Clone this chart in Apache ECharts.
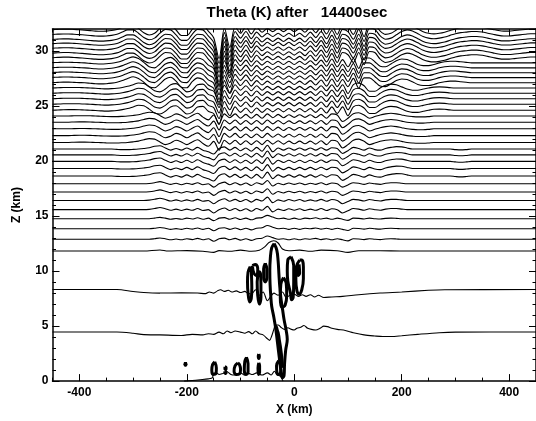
<!DOCTYPE html>
<html>
<head>
<meta charset="utf-8">
<title>Theta (K) after 14400sec</title>
<script src="https://cdn.jsdelivr.net/npm/echarts@6/dist/echarts.min.js"></script>
<style>
html, body { margin: 0; padding: 0; background: #fff; }
#chart { width: 536px; height: 421px; }
</style>
</head>
<body>
<div id="chart"></div>
<script>
// x samples (km) for the layered isentropes
const xGrid = [-450,-440,-430,-420,-410,-400,-390,-380,-370,-360,
  -350,-340,-330,-320,-310,-300,-290,-280,-270,-260,
  -250,-240,-230,-220,-210,-200,-190,-180,-170,-160,
  -150,-140,-130,-120,-110,-100,-90,-80,-70,-60,
  -50,-40,-30,-20,-10,0,10,20,30,40,
  50,60,70,80,90,100,110,120,130,140,
  150,160,170,180,190,200,210,220,230,240,
  250,260,270,280,290,300,310,320,330,340,
  350,360,370,380,390,400,410,420,430,440,
  450];

// isentrope heights at the left edge (km), grouped by layer
const levelsB1 = [12.89, 13.84, 14.76];
const levelsB2 = [15.58, 16.42, 17.18, 17.93];
const levelsB3 = [18.64, 19.32, 19.97, 20.56, 21.09];
const levelsB4 = [21.69, 22.31, 22.93, 23.53, 24.09];
const levelsB5 = [24.62, 25.16, 25.66, 26.16, 26.64];
const levelsB6 = [27.11, 27.58, 28.03, 28.47, 28.92];
const levelsB7 = [29.36, 29.78, 30.22, 30.64, 31.02, 31.47, 31.91];

// vertical displacement (km) of each layer along xGrid
const dispB1 = [0,0,0,0,0,0,0,0,0,0,
  0,0,0,0,0,0,0,0,0,0.05,
  0.12,0.05,-0.05,0.02,-0.05,0.05,-0.03,0.08,-0.05,0.05,
  -0.18,0.05,0.1,-0.05,0.08,-0.08,0.05,-0.1,0.05,0.1,
  0.3,0.15,0,0.05,-0.05,0.05,-0.05,0.05,0,0.08,
  -0.03,0.05,-0.05,0.05,-0.05,-0.15,0.05,0.03,-0.03,0.05,
  0,-0.03,0.03,0.05,0.03,0,0,0,0,0,
  0,0,0,0,0,0,0,0,0,0,
  0,0,0,0,0,0,0,0,0,0,
  0];
const dispB2 = [0,0,0,0,0,0,0,0,0,0,
  0,0,0,0,0,0,0,0,0.03,0.1,
  0.2,0.08,-0.05,0.05,-0.08,0.05,-0.05,0.1,-0.08,0,
  -0.3,0,0.15,-0.08,0.1,-0.1,0.08,-0.15,0.1,-0.05,
  0.3,-0.2,0.05,-0.08,0.08,-0.05,0.08,-0.08,0.05,-0.05,
  0.1,-0.08,0.08,0,-0.3,-0.1,0.1,0.05,-0.05,0.08,
  0,-0.05,0.05,0.1,0.1,0.05,0,0,0,0,
  0,0,0,0,0,0,0,0,0,0,
  0,0,0,0,0,0,0,0,0,0,
  0];
const dispB3 = [0,0,0,0,0,0,0,0,0,0,
  0,0,-0.03,-0.05,-0.05,-0.03,0,0.05,0.12,0.25,
  0.3,0.1,-0.1,0.05,-0.1,0.1,-0.1,0.15,-0.1,-0.25,
  -0.45,0.05,0.2,-0.1,0.15,-0.15,0.1,-0.2,0.15,-0.2,
  0.35,-0.25,0.1,-0.1,0.1,-0.1,0.1,-0.1,0.1,-0.1,
  0.12,-0.1,0.12,0.05,-0.4,-0.15,0.15,0.05,-0.1,0.1,
  -0.05,-0.1,0.05,0.15,0.22,0.2,0.1,0,0,0,
  0,0,0,0,0,-0.05,-0.08,-0.05,0,0,
  0,0,0,0,0,0,0,0,0,0,
  0];
const dispB4 = [0,0,0,0,0.02,0.03,0.03,0.02,0,-0.02,
  -0.04,-0.05,-0.05,-0.03,0,0.05,0.12,0.25,0.35,0.3,
  0.05,-0.2,-0.05,0.2,0.05,-0.2,0.05,0.25,-0.1,-0.35,
  0.1,-0.7,0.2,-0.15,0.2,-0.2,0.15,-0.2,0.15,-0.2,
  0.2,-0.15,0.15,-0.15,0.12,-0.12,0.12,-0.12,0.12,-0.15,
  0.15,-0.2,0.2,0.1,-0.5,-0.2,0.2,0.3,0.1,-0.2,
  -0.05,0.1,0.2,0.25,0.2,0.1,0,-0.05,-0.08,-0.08,
  -0.05,0,0,0,0,0,0,0,0,0,
  0,0,0,0,0,0,0,0,0,0,
  0];
const dispB5 = [0,0.02,0.04,0.05,0.05,0.04,0.02,0,-0.03,-0.06,
  -0.08,-0.06,-0.02,0.05,0.15,0.3,0.45,0.4,0.1,-0.25,
  -0.35,-0.1,0.3,0.4,0.05,-0.35,-0.2,0.3,0.35,-0.1,
  -0.3,-1.3,0.25,-0.5,0.3,-0.2,0.2,-0.25,0.2,-0.2,
  0.15,-0.15,0.15,-0.15,0.15,-0.15,0.15,-0.15,0.15,-0.2,
  0.2,-0.25,0.3,-0.3,0.3,-0.5,0.3,0.45,0.2,-0.3,
  -0.3,0,0.25,0.35,0.3,0.1,-0.1,-0.2,-0.2,-0.1,
  0,0.08,0.1,0.08,0.03,0,0,0,0,0,
  0,0,0,0,0,0,0,0,0,0,
  0];
const dispB6 = [0.02,0.04,0.06,0.06,0.04,0.02,0,-0.04,-0.08,-0.1,
  -0.08,-0.03,0.05,0.2,0.4,0.55,0.4,0.05,-0.35,-0.45,
  -0.1,0.35,0.5,0.15,-0.4,-0.45,0.1,0.45,0.3,-0.2,
  -0.5,-2.0,0.2,-0.9,0.3,-0.25,0.25,-0.3,0.2,-0.2,
  0.15,-0.15,0.15,-0.15,0.15,-0.15,0.15,-0.15,0.2,-0.2,
  0.25,-0.3,0.35,-0.35,0.3,-0.35,0.4,-0.5,0.45,0.45,
  0.1,-0.3,-0.35,-0.1,0.2,0.35,0.3,0.1,-0.15,-0.25,
  -0.25,-0.15,0,0.1,0.15,0.15,0.1,0.05,0,0,
  0,0,0,0,0,0,0,0,0,0,
  0];
const dispB7 = [0.03,0.06,0.08,0.08,0.05,0.02,-0.02,-0.06,-0.1,-0.12,
  -0.1,-0.05,0.05,0.25,0.45,0.45,0.15,-0.25,-0.45,-0.3,
  0.15,0.5,0.45,0,-0.5,-0.5,0.05,0.5,0.45,-0.1,
  -0.7,-2.6,0.2,-1.6,0.3,-0.3,0.3,-0.35,0.25,-0.2,
  0.15,-0.15,0.15,-0.15,0.15,-0.15,0.15,-0.2,0.25,-0.25,
  0.3,-0.35,0.4,-0.4,0.5,0.3,-0.4,0.5,-0.6,0.6,
  0.5,-0.1,-0.4,-0.3,0,0.3,0.45,0.35,0.1,-0.15,
  -0.3,-0.35,-0.3,-0.2,-0.05,0.1,0.2,0.25,0.3,0.3,
  0.25,0.15,0.05,-0.05,-0.1,-0.1,-0.05,0,0.05,0.1,
  0.1];

// lower isentropes, [x km, z km]
const lineSurface = [[-205,0],[-190,0.05],[-175,0.12],[-160,0.2],[-152,0.32],[-151,0.7],[-145,0.75],
  [-140,0.6],[-133,0.7],[-125,0.85],[-118,0.6],[-110,0.55],[-100,0.75],[-93,0.55],[-85,0.7],
  [-78,0.6],[-70,0.75],[-60,0.55],[-50,0.75],[-43,0.55],[-37,0.9],[-32,0.6],[-25,0.4],[-21,0]];
const line4 = [[-450,4.46],[-330,4.46],[-300,4.35],[-280,4.22],[-250,4.2],[-210,4.15],[-190,4.25],
  [-170,4.2],[-160,4.3],[-150,4.25],[-140,4.45],[-132,4.3],[-125,4.55],[-118,4.4],[-110,4.55],
  [-100,4.45],[-92,4.35],[-85,4.5],[-78,4.3],[-72,4.55],[-65,4.3],[-58,4.2],[-50,3.85],[-46,3.7],
  [-42,4.1],[-38,4.7],[-35,5.1],[-30,5.1],[-25,4.9],[-18,4.7],[-12,4.85],[-5,4.7],[0,4.65],[5,4.8],
  [12,4.9],[18,5.05],[25,4.8],[32,4.7],[40,4.65],[48,4.8],[55,5.0],[62,4.95],[70,4.8],[80,4.7],
  [95,4.6],[110,4.4],[130,4.2],[150,4.1],[165,4.05],[180,4.05],[200,4.12],[230,4.25],[270,4.4],
  [300,4.45],[450,4.46]];
const line8 = [[-450,8.32],[-330,8.32],[-300,8.15],[-280,8.05],[-250,8.0],[-210,8.02],[-180,8.0],
  [-165,7.95],[-158,8.1],[-150,8.0],[-143,8.2],[-137,8.3],[-130,8.15],[-123,8.25],[-116,8.1],
  [-108,8.2],[-100,8.05],[-92,8.15],[-87,8.0],[-80,7.9],[-72,8.3],[-65,7.8],[-58,8.1],[-50,7.3],
  [-45,7.6],[-38,8.0],[-30,7.8],[-22,8.1],[-15,7.6],[-8,7.8],[0,7.9],[8,7.7],[15,7.85],[22,7.7],
  [30,7.85],[38,7.65],[45,7.8],[55,7.6],[70,7.65],[90,7.7],[120,7.85],[160,8.0],[200,8.1],
  [250,8.25],[280,8.3],[450,8.32]];
const line12 = [[-450,11.82],[-280,11.82],[-250,11.92],[-235,11.82],[-200,11.86],[-170,11.8],
  [-150,11.7],[-140,11.86],[-120,11.8],[-100,11.9],[-80,11.8],[-65,11.9],[-55,12.2],[-47,12.6],
  [-38,12.75],[-30,12.55],[-22,12.0],[-10,11.85],[10,11.9],[30,11.8],[50,11.9],[80,11.85],
  [100,11.7],[120,11.85],[160,11.85],[200,11.82],[450,11.82]];

// bold closed contours of the convective cloud
const towerLoop = [[-37.5,12.5],[-42,12.1],[-44.5,11.2],[-45.5,10.0],[-45,8.8],[-43.5,7.6],[-42,6.8],
  [-38,5.8],[-34,4.6],[-31,3.4],[-28,2.2],[-25,1.0],[-22,0.3],[-19,0.5],[-18,1.6],[-16,2.8],
  [-13,3.8],[-15,4.6],[-19,5.6],[-22,6.6],[-25,7.6],[-27,8.6],[-28.5,9.7],[-30,10.9],[-32.5,11.9],
  [-37.5,12.5]];
const trunkLoop = [[-35,5.0],[-30,4.4],[-27,3.4],[-24,2.0],[-22,1.2],[-24,2.5],[-28,3.8],[-33,4.9],[-35,5.0]];
const cloudA = [[-82,10.4],[-86,9.9],[-87,9.0],[-86,8.0],[-83,7.2],[-80,7.5],[-79,8.5],[-79.5,9.5],[-80,10.1],[-82,10.4]];
const cloudB = [[-78,10.5],[-72,10.6],[-68,10.2],[-70,9.6],[-75,9.8],[-78,10.5]];
const cloudC = [[-66,10.0],[-69,9.0],[-68,7.8],[-65,7.0],[-62,7.6],[-62,8.8],[-63,9.8],[-66,10.0]];
const cloudD = [[-54,10.7],[-57,10.2],[-57,9.4],[-54,9.0],[-51,9.4],[-51,10.2],[-54,10.7]];
const cloudE = [[-20,9.4],[-25,8.8],[-26,7.6],[-23,6.7],[-17,6.9],[-14,7.8],[-15,8.9],[-20,9.4]];
const cloudF = [[-6,11.3],[-12,11.0],[-13,10.0],[-12,9.1],[-7,8.0],[-5,7.4],[-2,7.6],[-1,9.0],[-1,10.5],[-6,11.3]];
const cloudG = [[10,11.0],[4,10.4],[3,9.2],[5,8.2],[9,7.9],[14,8.3],[17,9.3],[17,10.4],[14,11.0],[10,11.0]];
const cloudGHole = [[9,10.6],[6,10.1],[7,9.6],[10,9.8],[9,10.6]];
const lowA = [[-148,1.75],[-152,1.5],[-153.5,1.0],[-151,0.6],[-146,0.65],[-145,1.2],[-148,1.75]];
const lowB = [[-129,1.3],[-127,1.25],[-127,1.05],[-129,1.05],[-129,1.3]];
const lowC = [[-129,0.9],[-127,0.9],[-127,0.7],[-129,0.7],[-129,0.9]];
const lowD = [[-105,1.65],[-110,1.4],[-112,0.9],[-108,0.6],[-102,0.65],[-100,1.1],[-102,1.5],[-105,1.65]];
const lowE = [[-89,2.15],[-92,1.8],[-93,1.0],[-90,0.6],[-86,0.8],[-86,1.6],[-89,2.15]];
const lowF = [[-66,2.45],[-67,2.25],[-66,2.05],[-65,2.25],[-66,2.45]];
const lowG = [[-66,1.65],[-67.5,1.2],[-66.5,0.6],[-64.5,0.8],[-64.5,1.4],[-66,1.65]];
const lowH = [[-29,1.85],[-33,1.4],[-32,0.7],[-28,0.6],[-25,1.0],[-26,1.6],[-29,1.85]];
const lowDot = [[-202.5,1.7],[-204,1.45],[-201,1.45],[-202.5,1.7]];

const xLabelValues = [-400, -200, 0, 200, 400];

const font = '"Liberation Sans", Arial, Helvetica, sans-serif';

const layers = [
  [levelsB1, dispB1], [levelsB2, dispB2], [levelsB3, dispB3], [levelsB4, dispB4],
  [levelsB5, dispB5], [levelsB6, dispB6], [levelsB7, dispB7]
];

const series = [];
function thin(data) {
  series.push({
    type: 'line', data: data, symbol: 'none', smooth: 0.3, silent: true,
    lineStyle: { color: '#000', width: 1.1 }
  });
}
function bold(data) {
  series.push({
    type: 'line', data: data, symbol: 'none', smooth: 0.4, silent: true,
    lineStyle: { color: '#000', width: 3 }
  });
}

[lineSurface, line4, line8, line12].forEach(thin);
layers.forEach(([levels, disp]) => {
  levels.forEach(lv => {
    thin(xGrid.map((x, i) => [x, +(lv + disp[i]).toFixed(3)]));
  });
});
[towerLoop, trunkLoop, cloudA, cloudB, cloudC, cloudD, cloudE, cloudF, cloudG, cloudGHole,
 lowA, lowB, lowC, lowD, lowE, lowF, lowG, lowH, lowDot].forEach(bold);

const tickStyle = { color: '#000', width: 1 };
const lineStyle = { color: '#000', width: 1.5 };
const labelStyle = { fontFamily: font, fontWeight: 'bold', fontSize: 12, color: '#000' };

const option = {
  animation: false,
  backgroundColor: '#fff',
  graphic: [{
    type: 'text', x: 297, y: 13,
    style: {
      text: 'Theta (K) after   14400sec', fill: '#000',
      font: 'bold 15px ' + font,
      textAlign: 'center', align: 'center',
      textVerticalAlign: 'middle', verticalAlign: 'middle'
    }
  }],
  grid: { left: 52.5, top: 29, width: 488.25, height: 360 },
  xAxis: [
    {
      type: 'value', min: -450, max: 450, interval: 50, position: 'bottom',
      axisLine: { show: true, onZero: false, lineStyle: lineStyle },
      axisTick: { inside: true, length: 3.5, lineStyle: tickStyle },
      axisLabel: Object.assign({ customValues: xLabelValues, margin: 6 }, labelStyle),
      splitLine: { show: false },
      name: 'X (km)', nameLocation: 'middle', nameGap: 18,
      nameTextStyle: labelStyle
    },
    {
      type: 'value', min: -450, max: 450, position: 'bottom',
      axisLine: { show: false, onZero: false },
      axisTick: { inside: true, length: 7, customValues: xLabelValues, lineStyle: tickStyle },
      axisLabel: { show: false }, splitLine: { show: false }
    },
    {
      type: 'value', min: -450, max: 450, interval: 50, position: 'top',
      axisLine: { show: true, onZero: false, lineStyle: lineStyle },
      axisTick: { inside: true, length: 3.5, lineStyle: tickStyle },
      axisLabel: { show: false }, splitLine: { show: false }
    },
    {
      type: 'value', min: -450, max: 450, position: 'top',
      axisLine: { show: false, onZero: false },
      axisTick: { inside: true, length: 7, customValues: xLabelValues, lineStyle: tickStyle },
      axisLabel: { show: false }, splitLine: { show: false }
    }
  ],
  yAxis: [
    {
      type: 'value', min: 0, max: 32, interval: 5, position: 'left',
      axisLine: { show: true, onZero: false, lineStyle: lineStyle },
      axisTick: { inside: true, length: 7, lineStyle: tickStyle },
      axisLabel: Object.assign({ showMaxLabel: false, margin: 4 }, labelStyle),
      splitLine: { show: false },
      name: 'Z (km)', nameLocation: 'middle', nameGap: 30, nameRotate: 90,
      nameTextStyle: labelStyle
    },
    {
      type: 'value', min: 0, max: 32, interval: 1, position: 'left',
      axisLine: { show: false, onZero: false },
      axisTick: { inside: true, length: 3.5, lineStyle: tickStyle },
      axisLabel: { show: false }, splitLine: { show: false }
    },
    {
      type: 'value', min: 0, max: 32, interval: 5, position: 'right',
      axisLine: { show: true, onZero: false, lineStyle: lineStyle },
      axisTick: { inside: true, length: 7, lineStyle: tickStyle },
      axisLabel: { show: false }, splitLine: { show: false }
    },
    {
      type: 'value', min: 0, max: 32, interval: 1, position: 'right',
      axisLine: { show: false, onZero: false },
      axisTick: { inside: true, length: 3.5, lineStyle: tickStyle },
      axisLabel: { show: false }, splitLine: { show: false }
    }
  ],
  series: series
};

const chart = echarts.init(document.getElementById('chart'), null, { renderer: 'canvas' });
chart.setOption(option);
</script>
</body>
</html>
